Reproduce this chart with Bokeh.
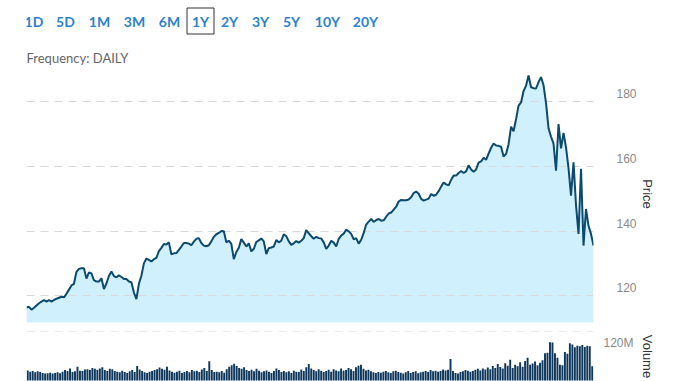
from bokeh.plotting import figure
from bokeh.layouts import column
from bokeh.models import Range1d, FixedTicker, CustomJSTickFormatter
from bokeh.core.properties import value
from bokeh.embed import file_html
from bokeh.resources import INLINE

# ---------------- data ----------------
ranges = ["1D", "5D", "1M", "3M", "6M", "1Y", "2Y", "3Y", "5Y", "10Y", "20Y"]
selected_range = "1Y"
frequency_text = "Frequency: DAILY"

price = [
    116.4, 116.6, 115.7, 116.3, 117.0, 117.7, 118.2, 118.7, 118.2, 118.7,
    118.2, 118.7, 119.1, 119.4, 119.7, 119.5, 120.6, 121.9, 123.2, 123.7,
    127.4, 128.3, 128.5, 128.5, 125.3, 127.2, 126.9, 124.8, 124.4, 124.4,
    125.4, 122.1, 123.8, 126.1, 127.5, 126.1, 125.7, 126.3, 125.8, 125.2,
    125.2, 124.4, 124.2, 121.0, 119.0, 123.7, 126.2, 130.0, 131.5, 131.1,
    130.6, 131.3, 131.7, 133.8, 134.8, 136.0, 135.8, 136.5, 132.8, 133.1,
    133.2, 134.2, 135.2, 136.3, 136.3, 136.1, 135.6, 136.7, 137.6, 137.8,
    136.3, 135.5, 135.3, 135.6, 136.8, 138.2, 139.0, 139.4, 140.0, 139.9,
    136.5, 137.0, 136.0, 131.3, 133.5, 134.8, 137.5, 136.4, 135.2, 136.2,
    133.7, 134.5, 136.6, 137.1, 137.7, 136.8, 132.9, 134.7, 134.9, 135.2,
    137.2, 136.5, 137.0, 139.0, 138.4, 136.8, 135.7, 136.2, 136.9, 136.4,
    137.0, 137.8, 140.3, 139.3, 138.4, 137.6, 138.2, 137.8, 137.7, 136.5,
    134.5, 135.5, 137.0, 136.4, 135.2, 137.6, 138.6, 139.2, 140.4, 139.9,
    139.1, 137.4, 137.8, 136.1, 137.3, 139.4, 142.0, 142.9, 143.7, 142.8,
    143.4, 143.7, 143.2, 143.3, 144.4, 145.4, 145.7, 146.6, 147.5, 149.1,
    149.6, 149.5, 149.5, 149.7, 150.4, 151.7, 152.2, 151.5, 149.9, 149.4,
    149.7, 150.0, 151.4, 150.9, 151.2, 152.3, 153.7, 155.0, 154.4, 154.1,
    155.8, 157.1, 157.1, 157.9, 158.5, 157.9, 158.4, 160.3, 159.0, 158.3,
    159.0, 161.1, 161.5, 162.6, 162.0, 163.9, 165.7, 167.0, 166.4, 166.3,
    166.0, 163.0, 163.8, 166.8, 172.2, 170.8, 174.6, 178.7, 179.7, 183.2,
    184.9, 188.0, 184.4, 184.1, 184.0, 186.0, 187.5, 185.0, 179.5, 171.7,
    169.1, 167.0, 158.6, 173.0, 165.5, 170.3, 165.8, 159.4, 150.9, 161.2,
    148.0, 139.1, 159.2, 135.5, 146.8, 141.6, 139.1, 135.5,
]

# volume in millions
volume_m = [
    32, 28, 30, 26, 29, 27, 24, 22, 23, 25,
    22, 24, 26, 23, 28, 33, 30, 38, 27, 29,
    44, 31, 30, 35, 36, 33, 40, 37, 34, 38,
    42, 33, 30, 37, 36, 30, 28, 26, 31, 27,
    24, 29, 33, 27, 46, 35, 30, 26, 24, 28,
    30, 33, 36, 41, 37, 34, 44, 32, 28, 25,
    28, 31, 24, 27, 30, 26, 33, 29, 31, 27,
    35, 40, 30, 61, 33, 27, 28, 26, 30, 25,
    36, 44, 48, 53, 46, 40, 37, 42, 33, 30,
    34, 29, 37, 31, 26, 29, 32, 28, 24, 30,
    38, 33, 27, 30, 26, 29, 24, 31, 28, 27,
    35, 30, 42, 52, 38, 33, 29, 36, 31, 27,
    30, 34, 28, 36, 32, 29, 38, 31, 33, 40,
    36, 30, 42, 47, 50, 37, 32, 34, 29, 26,
    24, 27, 25, 28, 30, 26, 24, 29, 31, 27,
    25, 22, 26, 30, 24, 27, 29, 23, 26, 28,
    30, 27, 33, 29, 31, 28, 30, 35, 32, 34,
    68, 30, 24, 22, 27, 29, 33, 31, 28, 30,
    34, 37, 32, 38, 35, 41, 36, 46, 40, 52,
    43, 38, 55, 47, 66, 40, 50, 45, 58, 44,
    62, 72, 50, 54, 60, 48, 56, 64, 86, 88,
    121, 120, 86, 72, 50, 48, 90, 85, 118, 114,
    105, 110, 108, 112, 106, 110, 108, 45,
]

price_ticks = [120, 140, 160, 180]
volume_ticks_m = [120]

# ---------------- style / layout ----------------
W = 670
LEFT = 26          # frame left edge (px)
RIGHT = 593        # frame right edge (px)
BR = W - RIGHT
LINE = "#0c4a6e"
FILL = "#cff0fc"
BAR = "#0f385c"
BLUE = "#2d82c9"
GRID = "#d9d9d9"
TICK_FONT = "Liberation Sans"

# header (buttons + frequency); data units == page pixels
HEAD_H = 65
head = figure(width=W, height=HEAD_H, x_range=Range1d(LEFT, RIGHT), y_range=Range1d(HEAD_H, 0),
              x_axis_location=None, y_axis_location=None,
              output_backend="svg", toolbar_location=None,
              min_border_left=LEFT, min_border_right=BR, min_border_top=0, min_border_bottom=0)
head.grid.visible = False
head.outline_line_color = None
btn_x = [33.5, 65, 99, 134, 169, 200, 229, 260, 291, 327, 365]
head.text(x=btn_x, y=[21] * len(ranges), text=ranges,
          text_font=value("Lato"), text_font_style="bold", text_font_size="14px",
          text_color=BLUE, text_align="center", text_baseline="middle")
si = ranges.index(selected_range)
head.quad(left=btn_x[si] - 13.5, right=btn_x[si] + 13.5, top=7.5, bottom=33.5,
          fill_color=None, line_color="#333333", line_width=1)
head.text(x=[LEFT], y=[57], text=[frequency_text], text_font=value("Lato"),
          text_font_size="13px", text_color="#666666", text_baseline="middle")

# price panel
days = list(range(len(price)))
p = figure(width=W, height=266, x_range=Range1d(0, len(price) - 1),
           y_range=Range1d(111.75, 191.1),
           x_axis_location=None, y_axis_location="right",
           output_backend="svg", toolbar_location=None,
           min_border_left=LEFT, min_border_right=BR, min_border_top=0, min_border_bottom=9)
p.outline_line_color = None
p.xgrid.visible = False
p.ygrid.ticker = FixedTicker(ticks=price_ticks)
p.ygrid.grid_line_color = GRID
p.ygrid.grid_line_dash = "8 6"
p.ygrid.grid_line_width = 1

area = p.varea(x=days, y1=[100] * len(price), y2=price, fill_color=FILL)
area.level = "image"
p.line(x=days, y=price, line_color=LINE, line_width=2)

off = 2.47
yax = p.yaxis[0]
yax.ticker = FixedTicker(ticks=[t + off for t in price_ticks])
yax.formatter = CustomJSTickFormatter(args=dict(off=off), code="return (tick - off).toFixed(0)")
yax.major_tick_line_color = None
yax.minor_tick_line_color = None
yax.axis_line_color = None
yax.major_label_standoff = 17
yax.major_label_text_font = TICK_FONT
yax.major_label_text_font_size = "12px"
yax.major_label_text_color = "#8a8a8a"
yax.axis_label = "Price"
yax.axis_label_text_font = TICK_FONT
yax.axis_label_text_font_style = "normal"
yax.axis_label_text_font_size = "13px"
yax.axis_label_text_color = "#333333"
yax.axis_label_standoff = 0

# volume panel
vdays = list(range(len(volume_m)))
volume = [vv * 1e6 for vv in volume_m]
v = figure(width=W, height=50, x_range=Range1d(-0.5, len(volume_m) - 0.5),
           y_range=Range1d(-3e6, 155e6),
           x_axis_location=None, y_axis_location="right",
           output_backend="svg", toolbar_location=None,
           min_border_left=LEFT, min_border_right=BR, min_border_top=0, min_border_bottom=0)
v.outline_line_color = None
v.xgrid.visible = False
v.ygrid.ticker = FixedTicker(ticks=[154e6])
v.ygrid.grid_line_color = GRID
v.ygrid.grid_line_dash = "8 6"
v.vbar(x=vdays, top=volume, bottom=0, width=0.78, fill_color=BAR, line_color=None)

vax = v.yaxis[0]
vax.ticker = FixedTicker(ticks=[t * 1e6 for t in volume_ticks_m])
vax.formatter = CustomJSTickFormatter(code="return (tick / 1e6).toFixed(0) + 'M'")
vax.major_tick_line_color = None
vax.minor_tick_line_color = None
vax.axis_line_color = None
vax.major_label_standoff = 4
vax.major_label_text_font = TICK_FONT
vax.major_label_text_font_size = "12px"
vax.major_label_text_color = "#8a8a8a"
vax.axis_label = "Volume"
vax.axis_label_text_font = TICK_FONT
vax.axis_label_text_font_style = "normal"
vax.axis_label_text_font_size = "13px"
vax.axis_label_text_color = "#333333"
vax.axis_label_standoff = 3

layout = column(head, p, v, spacing=0)
open("out.html", "w").write(file_html(layout, INLINE))
